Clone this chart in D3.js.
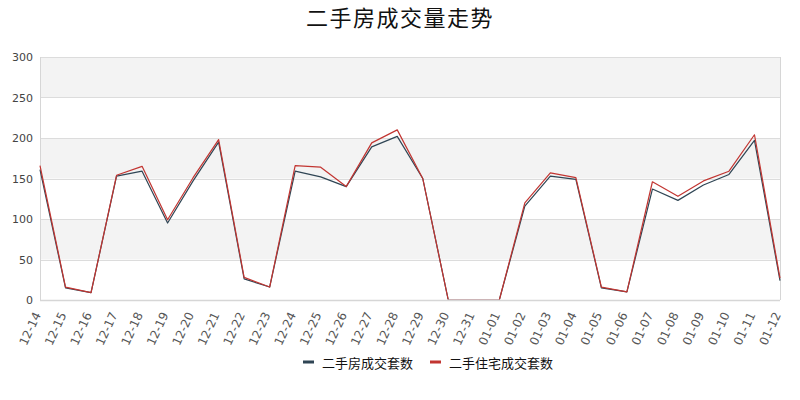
<!DOCTYPE html>
<html><head><meta charset="utf-8">
<script src="https://cdn.jsdelivr.net/npm/d3@7/dist/d3.min.js"></script>
<style>body{margin:0;background:#fff}svg{display:block}</style>
</head><body><svg id="c" width="800" height="400"></svg>
<script>
const title = "二手房成交量走势";
const categories = ["12-14","12-15","12-16","12-17","12-18","12-19","12-20","12-21","12-22","12-23","12-24","12-25","12-26","12-27","12-28","12-29","12-30","12-31","01-01","01-02","01-03","01-04","01-05","01-06","01-07","01-08","01-09","01-10","01-11","01-12"];
const seriesNames = ["二手房成交套数","二手住宅成交套数"];
const houseDeals = [161,15,9,153,159,95,147,195,26,16,159,152,140,189,202,150,0,0,0,116,153,149,15,10,137,123,142,155,197,24];
const residentialDeals = [166,16,9,154,165,99,151,198,28,16,166,164,140,194,210,150,0,0,0,120,157,151,16,10,146,128,147,159,204,27];
const yTicks = [0,50,100,150,200,250,300];
const colors = ["#2f4554","#c23531"];

const svg = d3.select("#c");
const m = {l:40, r:20, t:57, b:100};
const W = 800, H = 400;
const x = d3.scalePoint().domain(categories).range([m.l, W - m.r]);
const y = d3.scaleLinear().domain([0,300]).range([H - m.b, m.t]);

svg.append("defs").append("clipPath").attr("id","clip")
  .append("rect").attr("x", m.l - 2).attr("y", 0).attr("width", W - m.r - m.l + 4).attr("height", y(0) - 0.5);

// bands
const g = svg.append("g");
for (let i = 0; i < yTicks.length - 1; i++) {
  if (i % 2 === 1) {
    g.append("rect").attr("x", m.l).attr("width", W - m.r - m.l)
      .attr("y", y(yTicks[i+1])).attr("height", y(yTicks[i]) - y(yTicks[i+1]))
      .attr("fill", "#f3f3f3");
  }
}
// grid
g.selectAll("line.grid").data(yTicks).join("line").attr("class","grid")
  .attr("x1", m.l).attr("x2", W - m.r)
  .attr("y1", d => Math.round(y(d)) + 0.5).attr("y2", d => Math.round(y(d)) + 0.5)
  .attr("stroke", "#dcdcdc").attr("stroke-width", 1);
// borders
g.append("line").attr("x1", m.l + 0.5).attr("x2", m.l + 0.5).attr("y1", y(300)).attr("y2", y(0)).attr("stroke","#d6d6d6");
g.append("line").attr("x1", W - m.r + 0.5).attr("x2", W - m.r + 0.5).attr("y1", y(300)).attr("y2", y(0)).attr("stroke","#d6d6d6");

// y axis
const ya = svg.append("g").attr("transform", `translate(${m.l},0)`)
  .call(d3.axisLeft(y).tickValues(yTicks).tickSize(0).tickPadding(7));
ya.select(".domain").remove();
ya.selectAll("text").attr("font-family","DejaVu Sans, sans-serif").attr("font-size", 11).attr("fill","#444");

// x axis
const xa = svg.append("g").attr("transform", `translate(0,${y(0)})`)
  .call(d3.axisBottom(x).tickSize(0).tickPadding(0));
xa.select(".domain").remove();
xa.selectAll("text")
  .attr("font-family","DejaVu Sans, sans-serif").attr("font-size", 12).attr("fill","#555")
  .attr("text-anchor","end").attr("dy", null)
  .attr("transform","translate(-3,13) rotate(-65)")
  .attr("dominant-baseline","central");

// lines
const line = d3.line().x((d,i) => x(categories[i])).y(d => y(d));
const lg0 = svg.append("g").attr("clip-path","url(#clip)");
[houseDeals, residentialDeals].forEach((s, k) => {
  lg0.append("path").datum(s).attr("d", line).attr("fill","none")
    .attr("stroke", colors[k]).attr("stroke-width", 1.2).attr("stroke-linejoin","round");
});
// bottom axis line on top
svg.append("line").attr("x1", m.l).attr("x2", W - m.r)
  .attr("y1", Math.round(y(0)) + 0.5).attr("y2", Math.round(y(0)) + 0.5)
  .attr("stroke", "#d6d6d6").attr("stroke-width", 1.5);

// title
svg.append("text").attr("x", 400).attr("y", 26).attr("text-anchor","middle")
  .attr("font-family","Noto Sans CJK SC, sans-serif").attr("font-size", 22)
  .attr("letter-spacing", 1.5).attr("fill","#111").text(title);

// legend
const legX = [303, 430];
seriesNames.forEach((n, k) => {
  const lg = svg.append("g").attr("transform", `translate(${legX[k]},362)`);
  lg.append("rect").attr("x", 0).attr("y", -1.5).attr("width", 11).attr("height", 3).attr("fill", colors[k]);
  lg.append("text").attr("x", 19).attr("y", 0).attr("dominant-baseline","central")
    .attr("font-family","Noto Sans CJK SC, sans-serif").attr("font-size", 13).attr("fill","#111").text(n);
});
</script></body></html>
